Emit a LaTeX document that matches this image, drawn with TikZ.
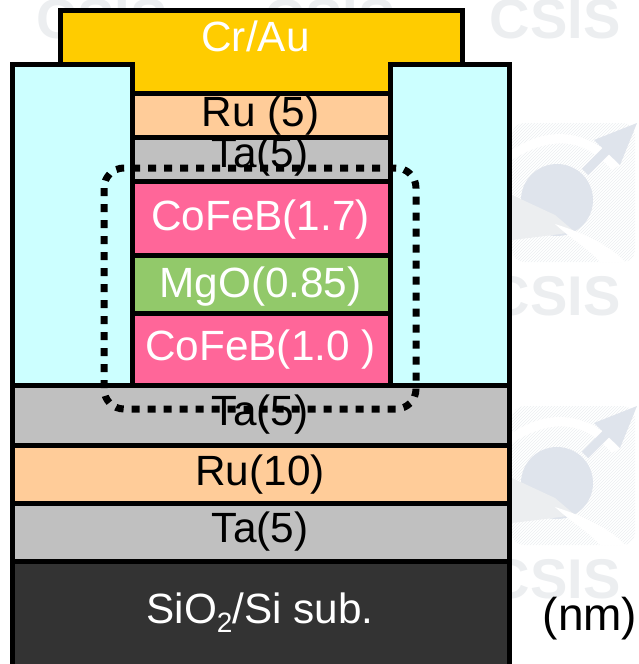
\documentclass[tikz,border=0pt]{standalone}
\usepackage{fontspec}
\setmainfont{Liberation Sans}
\usetikzlibrary{patterns}
\definecolor{goldAu}{HTML}{FFCC00}
\definecolor{peachRu}{HTML}{FFCC99}
\definecolor{greyTa}{HTML}{C0C0C0}
\definecolor{pinkFe}{HTML}{FF6699}
\definecolor{greenMg}{HTML}{92C96A}
\definecolor{darkSi}{HTML}{333333}
\definecolor{cyanOx}{HTML}{CCFFFF}
\definecolor{markgrey}{HTML}{ECEEF0}
\definecolor{markblue}{HTML}{DFE4EC}
\begin{document}
\begin{tikzpicture}[x=1pt,y=-1pt,
        layer/.style={draw=black,line width=5pt,line join=miter},
        lbl/.style={anchor=base,inner sep=0pt,font=\fontsize{42.3}{42}\selectfont},
        csis/.style={anchor=base,inner sep=0pt,text=markgrey,font=\fontsize{56}{56}\selectfont\bfseries}]
        \clip (0,0) rectangle (638,664);
        % faint background marks
        \foreach \x/\y/\n in {102/38/markA,330/38/markM,555/38/markB,555/315/markC,555/598/markD} {
            \node[csis] (\n) at (\x,\y) {CSIS};
        }
        \foreach \d in {0,283} {
            \begin{scope}[yshift=-\d pt]
                \fill[pattern=north east lines,pattern color=markgrey,rounded corners=12pt]
                    (512,123) rectangle (635,262);
                \fill[white] (512,150) .. controls (560,118) and (600,140) .. (620,165) -- (612,170)
                    .. controls (590,145) and (560,130) .. (512,160) -- cycle;
                \fill[markblue] (557,200) circle (36);
                \draw[markblue,line width=9pt] (585,172) -- (612,145);
                \fill[markblue] (637,123) -- (620,165) -- (594,140) -- cycle;
                \fill[markgrey] (512,195) -- (555,215) -- (575,232) -- (545,236) -- (512,240) -- cycle;
                \fill[white] (555,224) .. controls (590,235) and (615,250) .. (625,262) -- (600,262)
                    .. controls (590,250) and (570,238) .. (555,224) -- cycle;
            \end{scope}
        }
        % stack, bottom contact first
        \draw[layer,fill=goldAu] (60,10) rectangle (462.5,93);
        \foreach \c/\xa/\ya/\xb/\yb in {peachRu/132.5/93/390.5/137,greyTa/132.5/137/390.5/181,
            pinkFe/132.5/181/390.5/255,greenMg/132.5/255/390.5/313,pinkFe/132.5/313/390.5/385.5,
            cyanOx/12.5/64.5/132.5/385.5,cyanOx/390.5/64.5/509.5/385.5,
            greyTa/12.5/385.5/509.5/445,peachRu/12.5/445/509.5/503,greyTa/12.5/503/509.5/561.5,
            darkSi/12.5/561.5/509.5/670} {
            \draw[layer,fill=\c] (\xa,\ya) rectangle (\xb,\yb);
        }
        % labels
        \foreach \n/\c/\x/\y/\t in {crau/white/255.5/51/Cr\slash Au,ruA/black/260.5/126/Ru (5),taA/black/260/167/Ta(5),
            febA/white/260.5/230/CoFeB(1.7),mgo/white/260.5/297/MgO(0.85),febB/white/260.5/360/CoFeB(1.0 ),
            taB/black/260/425/Ta(5),ruB/black/260/485/Ru(10),taC/black/260/542/Ta(5)} {
            \node[lbl,text=\c] (\n) at (\x,\y) {\t};
        }
        \node[lbl,text=white] (sub) at (260,623) {SiO\raisebox{-9pt}{\fontsize{28}{28}\selectfont 2}/Si sub.};
        \node[lbl,font=\fontsize{46}{46}\selectfont] (nm) at (590,630) {(nm)};
        % dotted outline
        \draw[line width=7pt,dash pattern=on 8pt off 8pt,rounded corners=20pt] (104,168) rectangle (416,409);
\end{tikzpicture}
\end{document}
